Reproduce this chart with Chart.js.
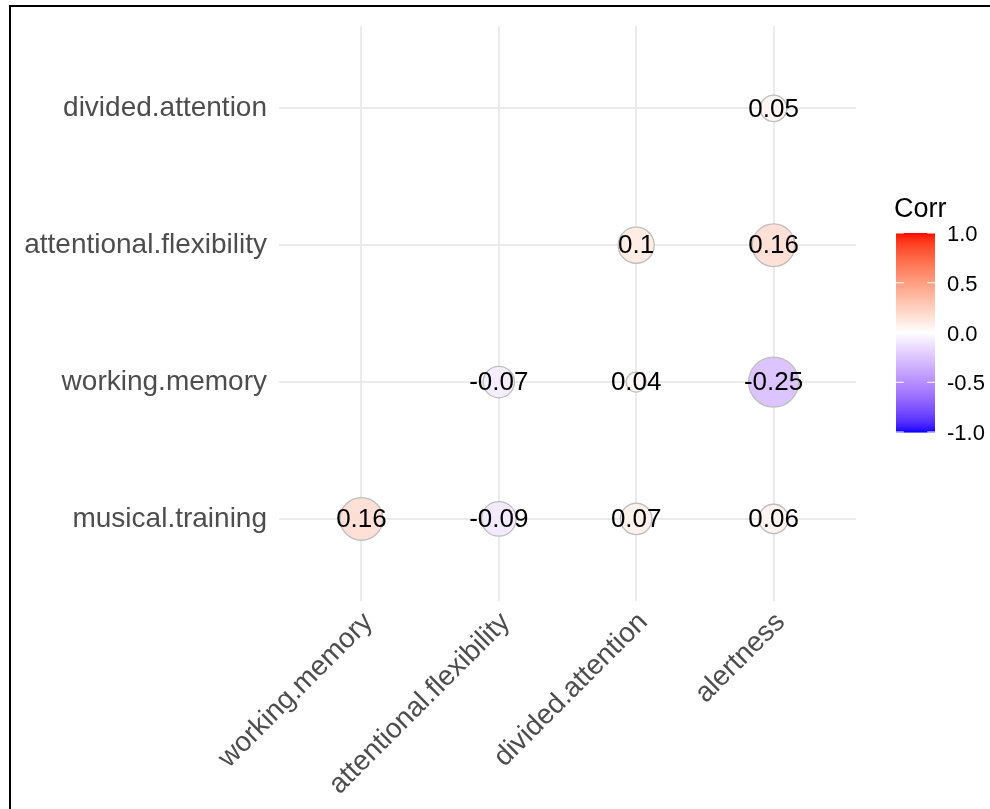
<!DOCTYPE html>
<html>
<head>
<meta charset="utf-8">
<script src="https://cdn.jsdelivr.net/npm/chart.js@4/dist/chart.umd.min.js"></script>
<style>
  html, body { margin: 0; padding: 0; background: #fff; }
  #wrap { position: relative; width: 990px; height: 809px; overflow: hidden; }
  #frame {
    position: absolute; left: 9px; top: 5px; right: -20px; bottom: -20px;
    border-left: 2px solid #000; border-top: 2px solid #000; pointer-events: none;
  }
</style>
</head>
<body>
<div id="wrap">
  <canvas id="corrChart" width="990" height="809"></canvas>
  <div id="frame"></div>
</div>
<script>
// variables along x (columns) and y (rows, bottom to top)
const colLabels = ['working.memory', 'attentional.flexibility', 'divided.attention', 'alertness'];
const rowLabels = ['musical.training', 'working.memory', 'attentional.flexibility', 'divided.attention'];

// correlations per row, one entry per column (null = not shown)
const corrMusicalTraining = [0.16, -0.09, 0.07, 0.06];
const corrWorkingMemory = [null, -0.07, 0.04, -0.25];
const corrAttentionalFlex = [null, null, 0.1, 0.16];
const corrDividedAttention = [null, null, null, 0.05];

const legendBreaks = [1.0, 0.5, 0.0, -0.5, -1.0];

const corrRows = [corrMusicalTraining, corrWorkingMemory, corrAttentionalFlex, corrDividedAttention];

const points = [];
corrRows.forEach((row, yi) => {
    row.forEach((v, xi) => {
        if (v !== null) points.push({ x: xi, y: yi, v: v });
    });
});

// --- Lab colour interpolation (blue - white - red) ---
const toLin = c => { c /= 255; return c <= 0.04045 ? c / 12.92 : Math.pow((c + 0.055) / 1.055, 2.4); };
const fromLin = c => {
    const s = c <= 0.0031308 ? 12.92 * c : 1.055 * Math.pow(c, 1 / 2.4) - 0.055;
    return Math.round(Math.min(1, Math.max(0, s)) * 255);
};
const rgbToLab = ([r, g, b]) => {
    r = toLin(r); g = toLin(g); b = toLin(b);
    const X = (0.4124 * r + 0.3576 * g + 0.1805 * b) / 0.95047;
    const Y = (0.2126 * r + 0.7152 * g + 0.0722 * b);
    const Z = (0.0193 * r + 0.1192 * g + 0.9505 * b) / 1.08883;
    const f = t => t > 0.008856 ? Math.cbrt(t) : 7.787 * t + 16 / 116;
    const fx = f(X), fy = f(Y), fz = f(Z);
    return [116 * fy - 16, 500 * (fx - fy), 200 * (fy - fz)];
};
const labToRgb = ([L, a, bb]) => {
    const fy = (L + 16) / 116, fx = fy + a / 500, fz = fy - bb / 200;
    const fi = t => t * t * t > 0.008856 ? t * t * t : (t - 16 / 116) / 7.787;
    const X = fi(fx) * 0.95047, Y = fi(fy), Z = fi(fz) * 1.08883;
    const r = 3.2406 * X - 1.5372 * Y - 0.4986 * Z;
    const g = -0.9689 * X + 1.8758 * Y + 0.0415 * Z;
    const b = 0.0557 * X - 0.2040 * Y + 1.0570 * Z;
    return `rgb(${fromLin(r)},${fromLin(g)},${fromLin(b)})`;
};
const labLow = rgbToLab([0, 0, 255]);
const labMid = rgbToLab([255, 255, 255]);
const labHigh = rgbToLab([255, 0, 0]);
const corrColor = v => {
    const end = v >= 0 ? labHigh : labLow;
    const t = Math.min(1, Math.abs(v));
    return labToRgb(labMid.map((m, i) => m + (end[i] - m) * t));
};

// point radius grows with sqrt of |corr|, rescaled over the shown values
const absVals = points.map(p => Math.abs(p.v));
const absMin = Math.min(...absVals), absMax = Math.max(...absVals);
const corrRadius = v => {
    const s = 4 + 6 * Math.sqrt((Math.abs(v) - absMin) / (absMax - absMin));
    return s * 2.5;
};

const FONT = '"Liberation Sans", Arial, Helvetica, sans-serif';

const valueLabels = {
    id: 'valueLabels',
    afterDatasetsDraw(chart) {
        const ctx = chart.ctx;
        const meta = chart.getDatasetMeta(0);
        ctx.save();
        ctx.font = `26px ${FONT}`;
        ctx.fillStyle = '#000';
        ctx.textAlign = 'center';
        ctx.textBaseline = 'middle';
        meta.data.forEach((el, i) => {
            ctx.fillText(String(points[i].v), el.x, el.y + 1);
        });
        ctx.restore();
    }
};

const colorBar = {
    id: 'colorBar',
    afterDraw(chart) {
        const ctx = chart.ctx;
        const x0 = 896, w = 39, y0 = 233, h = 199;
        ctx.save();
        ctx.font = `27px ${FONT}`;
        ctx.fillStyle = '#000';
        ctx.textAlign = 'left';
        ctx.textBaseline = 'alphabetic';
        ctx.fillText('Corr', 894, 217);

        const nbin = 200;
        for (let i = 0; i < nbin; i++) {
            const v = 1 - 2 * (i + 0.5) / nbin;
            ctx.fillStyle = corrColor(v);
            ctx.fillRect(x0, y0 + i * h / nbin, w, h / nbin + 0.6);
        }

        ctx.strokeStyle = '#fff';
        ctx.lineWidth = 1.2;
        ctx.font = `22px ${FONT}`;
        ctx.fillStyle = '#000';
        ctx.textBaseline = 'middle';
        legendBreaks.forEach(b => {
            const y = y0 + (1 - b) / 2 * h;
            ctx.beginPath();
            ctx.moveTo(x0, y); ctx.lineTo(x0 + w / 5, y);
            ctx.moveTo(x0 + w, y); ctx.lineTo(x0 + w - w / 5, y);
            ctx.stroke();
            ctx.fillText(b.toFixed(1), 947, y + 2);
        });
        ctx.restore();
    }
};

new Chart(document.getElementById('corrChart'), {
    type: 'scatter',
    data: {
        datasets: [{
            data: points,
            pointRadius: c => corrRadius(c.raw.v),
            pointHoverRadius: c => corrRadius(c.raw.v),
            pointBackgroundColor: c => corrColor(c.raw.v),
            pointBorderColor: '#BEBEBE',
            pointBorderWidth: 1.3
        }]
    },
    options: {
        responsive: false,
        animation: false,
        layout: { padding: { top: 23, right: 134, bottom: 0, left: 0 } },
        plugins: { legend: { display: false }, tooltip: { enabled: false } },
        scales: {
            x: {
                type: 'linear',
                min: -0.6,
                max: 3.6,
                afterBuildTicks: s => { s.ticks = colLabels.map((_, i) => ({ value: i })); },
                afterFit: s => { s.height = 208; },
                grid: { color: '#EBEBEB', lineWidth: 2, drawTicks: false },
                border: { display: false },
                ticks: {
                    autoSkip: false,
                    minRotation: 45,
                    maxRotation: 45,
                    padding: 5,
                    labelOffset: 7,
                    color: '#4D4D4D',
                    font: { family: FONT, size: 28 },
                    callback: v => colLabels[v] ?? ''
                }
            },
            y: {
                type: 'linear',
                min: -0.6,
                max: 3.6,
                afterBuildTicks: s => { s.ticks = rowLabels.map((_, i) => ({ value: i })); },
                afterFit: s => { s.width = 279; s.paddingTop = 0; s.paddingBottom = 0; },
                grid: { color: '#EBEBEB', lineWidth: 2, drawTicks: false },
                border: { display: false },
                ticks: {
                    padding: 12,
                    color: '#4D4D4D',
                    font: { family: FONT, size: 28 },
                    callback: v => rowLabels[v] ?? ''
                }
            }
        }
    },
    plugins: [valueLabels, colorBar]
});
</script>
</body>
</html>
